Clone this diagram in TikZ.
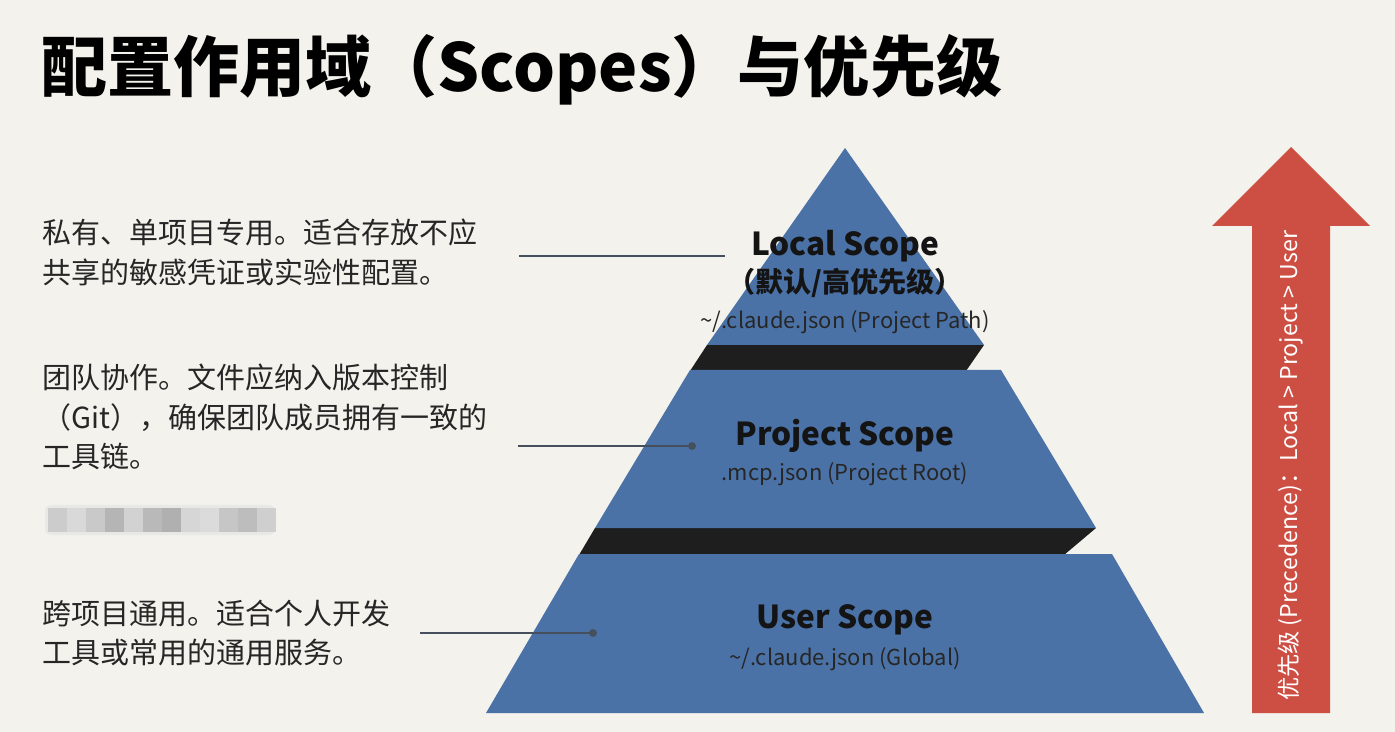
\documentclass[tikz,border=0pt]{standalone}
\usepackage{fontspec}
\setmainfont{Noto Sans CJK SC}
\usetikzlibrary{calc,positioning}
\definecolor{bgpaper}{HTML}{F3F2EC}
\definecolor{tierblue}{HTML}{4B72A6}
\definecolor{banddark}{HTML}{1E1E1E}
\definecolor{arrowred}{HTML}{CD4F43}
\definecolor{leadgray}{HTML}{45505C}
\tikzstyle{tier} = [fill=tierblue]
\tikzstyle{band} = [fill=banddark]
\tikzstyle{lead} = [leadgray, line width=1.2pt]
\tikzstyle{leaddot} = [circle, fill=leadgray, inner sep=0pt, minimum size=4.5pt]
\tikzstyle{note} = [anchor=west, align=left, inner sep=0pt, text=black!85, font=\fontsize{16.5}{22.7}\selectfont]
\tikzstyle{tiername} = [inner sep=0pt, text=black!92, font=\bfseries\fontsize{18}{20}\selectfont]
\tikzstyle{tierfile} = [inner sep=0pt, text=black!85, font=\fontsize{12.5}{14}\selectfont]
\def\tld{\textasciitilde}

\begin{document}
\begin{tikzpicture}[x=0.02cm, y=-0.02cm]
      \fill[bgpaper] (0,0) rectangle (1395,732);
      \useasboundingbox (0,0) rectangle (1395,732);
      % title
      \node[anchor=west, inner sep=0pt, font=\bfseries\fontsize{37.6}{40}\selectfont] (title) at (41,70) {配置作用域（Scopes）与优先级};
      % pyramid: dark side bands first, tiers on top
      \fill[band] (707,345) -- (984,345) -- (966,371) -- (690,371) -- cycle;
      \fill[band] (595,528) -- (1096,528) -- (1064,555) -- (579,555) -- cycle;
      \fill[tier] (845,148) -- (984,345) -- (707,345) -- cycle;
      \fill[tier] (690,370) -- (1001,370) -- (1096,528) -- (595,528) -- cycle;
      \fill[tier] (579,554) -- (1112,554) -- (1204,713) -- (486,713) -- cycle;
      \node[tiername] (local) at (845,246) {Local Scope};
      \node[tiername, font=\bfseries\fontsize{16}{18}\selectfont] (localnote) at (845,283) {（默认/高优先级）};
      \node[tierfile] (localfile) at (845,322) {\tld/.claude.json (Project Path)};
      \node[tiername] (project) at (845,436) {Project Scope};
      \node[tierfile] (projectfile) at (845,474) {.mcp.json (Project Root)};
      \node[tiername] (user) at (845,620) {User Scope};
      \node[tierfile] (userfile) at (845,659) {\tld/.claude.json (Global)};
      % notes on the left
      \node[note] (n1) at (42,252) {私有、单项目专用。适合存放不应\\共享的敏感凭证或实验性配置。};
      \node[note] (n2) at (42,417) {团队协作。文件应纳入版本控制\\（Git），确保团队成员拥有一致的\\工具链。};
      \node[note] (n3) at (42,633) {跨项目通用。适合个人开发\\工具或常用的通用服务。};
      % pixelated strip
      \fill[gray!18, rounded corners=3pt] (45,505) rectangle (275,535);
      \foreach \i/\s in {0/40,1/30,2/42,3/58,4/35,5/55,6/62,7/32,8/28,9/45,10/52,11/38}
        \fill[gray!\s] (48+\i*19,508) rectangle (67+\i*19,532);
      % leader lines
      \coordinate (l1a) at (519,256);
      \coordinate (l1b) at (725,256);
      \coordinate (l2a) at (518,446);
      \coordinate (l2b) at (692,446);
      \coordinate (l3a) at (420,633);
      \coordinate (l3b) at (593,633);
      \draw[lead] (l1a) -- (l1b);
      \draw[lead] (l2a) -- (l2b);
      \draw[lead] (l3a) -- (l3b);
      \node[leaddot] (d2) at (l2b) {};
      \node[leaddot] (d3) at (l3b) {};
      % precedence arrow
      \fill[arrowred] (1252,713) -- (1252,226) -- (1212,226) -- (1291,147) -- (1370,226) -- (1330,226) -- (1330,713) -- cycle;
      \node[rotate=90, text=white, inner sep=0pt, font=\fontsize{13.2}{15}\selectfont] (prec) at (1291,466) {优先级 (Precedence)：Local > Project > User};
\end{tikzpicture}
\end{document}
